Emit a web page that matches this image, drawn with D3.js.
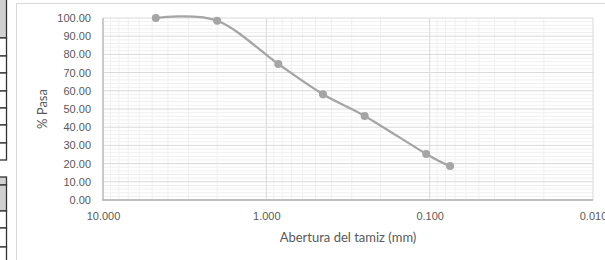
<!DOCTYPE html>
<html>
<head>
<meta charset="utf-8">
<script src="https://cdn.jsdelivr.net/npm/d3@7"></script>
<style>
  body { margin: 0; background: #fff; }
  svg { display: block; font-family: Lato, "Open Sans", sans-serif; }
  .tick text { fill: #595959; font-size: 11px; }
  .axis-label { fill: #595959; font-size: 13px; }
</style>
</head>
<body>
<svg id="chart"></svg>
<script>
// size
const width = 605;
const height = 260;

// plot area
const plot = { left: 103, right: 593, top: 18, bottom: 200 };

// data: sieve opening (mm) and % passing
const aberturas = [4.75, 2.0, 0.845, 0.45, 0.25, 0.105, 0.075];
const pasa = [100.0, 98.5, 74.7, 58.1, 46.2, 25.3, 18.7];

// tick labels
const xTicks = [10, 1, 0.1, 0.01];
const yTicks = [0, 10, 20, 30, 40, 50, 60, 70, 80, 90, 100];

// rows of the table cut off at the left edge (top, bottom, shaded)
const tableRows = [
    [-2, 38, true], [38, 56, false], [56, 73, false], [73, 91, false],
    [91, 108, false], [108, 125, false], [125, 143, false], [143, 160, false],
    [177, 185, true], [185, 211, true], [211, 228, false], [228, 247, false], [247, 265, false]
];

const svg = d3.select("#chart")
    .attr("width", width)
    .attr("height", height);

// table fragment on the left
svg.append("g")
    .selectAll("rect")
    .data(tableRows)
    .enter()
    .append("rect")
    .attr("x", -10)
    .attr("y", d => d[0])
    .attr("width", 16.5)
    .attr("height", d => d[1] - d[0])
    .attr("fill", d => d[2] ? "#d0d0d0" : "#fff")
    .attr("stroke", "#333")
    .attr("stroke-width", 1.3);

// chart frame
svg.append("rect")
    .attr("x", 16.5)
    .attr("y", 3.5)
    .attr("width", 700)
    .attr("height", 400)
    .attr("fill", "#fff")
    .attr("stroke", "#d9d9d9");

// scales
const xScale = d3.scaleLog()
    .domain([10, 0.01])
    .range([plot.left, plot.right]);
const yScale = d3.scaleLinear()
    .domain([0, 100])
    .range([plot.bottom, plot.top]);

// minor gridlines
const xMinor = [];
[0.01, 0.1, 1].forEach(d => {
    for (let k = 2; k <= 9; k++) xMinor.push(+(k * d).toFixed(3));
});
const yMinor = d3.range(2, 100, 2).filter(v => v % 10 !== 0);

const grid = svg.append("g").attr("class", "grid");

grid.selectAll("line.ymin")
    .data(yMinor)
    .enter()
    .append("line")
    .attr("x1", plot.left)
    .attr("x2", plot.right)
    .attr("y1", d => yScale(d))
    .attr("y2", d => yScale(d))
    .attr("stroke", "#f0f0f0");

grid.selectAll("line.xmin")
    .data(xMinor)
    .enter()
    .append("line")
    .attr("x1", d => xScale(d))
    .attr("x2", d => xScale(d))
    .attr("y1", plot.top)
    .attr("y2", plot.bottom)
    .attr("stroke", "#f0f0f0");

grid.selectAll("line.ymaj")
    .data(yTicks)
    .enter()
    .append("line")
    .attr("x1", plot.left)
    .attr("x2", plot.right)
    .attr("y1", d => yScale(d))
    .attr("y2", d => yScale(d))
    .attr("stroke", "#d9d9d9");

grid.selectAll("line.xmaj")
    .data(xTicks)
    .enter()
    .append("line")
    .attr("x1", d => xScale(d))
    .attr("x2", d => xScale(d))
    .attr("y1", plot.top)
    .attr("y2", plot.bottom)
    .attr("stroke", "#d9d9d9");

// axis lines
svg.append("line")
    .attr("x1", plot.left).attr("x2", plot.left)
    .attr("y1", plot.top).attr("y2", plot.bottom)
    .attr("stroke", "#bfbfbf")
    .attr("stroke-width", 1.5);
svg.append("line")
    .attr("x1", plot.left - 0.75).attr("x2", plot.right)
    .attr("y1", plot.bottom).attr("y2", plot.bottom)
    .attr("stroke", "#bfbfbf")
    .attr("stroke-width", 1.8);

// axes (labels only)
const yAxis = d3.axisLeft(yScale)
    .tickValues(yTicks)
    .tickSize(0)
    .tickPadding(12)
    .tickFormat(d3.format(".2f"));
const xAxis = d3.axisBottom(xScale)
    .tickValues(xTicks)
    .tickSize(0)
    .tickPadding(12)
    .tickFormat(d3.format(".3f"));

svg.append("g")
    .attr("transform", `translate(${plot.left},0)`)
    .call(yAxis)
    .call(g => g.select(".domain").remove());
svg.append("g")
    .attr("transform", `translate(0,${plot.bottom})`)
    .call(xAxis)
    .call(g => g.select(".domain").remove());

// axis titles
svg.append("text")
    .attr("class", "axis-label")
    .attr("text-anchor", "middle")
    .attr("transform", `translate(${(plot.left + plot.right) / 2}, 242)`)
    .text("Abertura del tamiz (mm)");
svg.append("text")
    .attr("class", "axis-label")
    .attr("text-anchor", "middle")
    .attr("transform", `translate(47, ${(plot.top + plot.bottom) / 2}) rotate(-90)`)
    .text("% Pasa");

// curve
const points = aberturas.map((a, i) => [a, pasa[i]]);
const line = d3.line()
    .x(d => xScale(d[0]))
    .y(d => yScale(d[1]))
    .curve(d3.curveCardinal);

svg.append("path")
    .datum(points)
    .attr("d", line)
    .attr("fill", "none")
    .attr("stroke", "#a5a5a5")
    .attr("stroke-width", 2.25);

svg.append("g")
    .selectAll("circle")
    .data(points)
    .enter()
    .append("circle")
    .attr("cx", d => xScale(d[0]))
    .attr("cy", d => yScale(d[1]))
    .attr("r", 4)
    .attr("fill", "#a5a5a5");
</script>
</body>
</html>
